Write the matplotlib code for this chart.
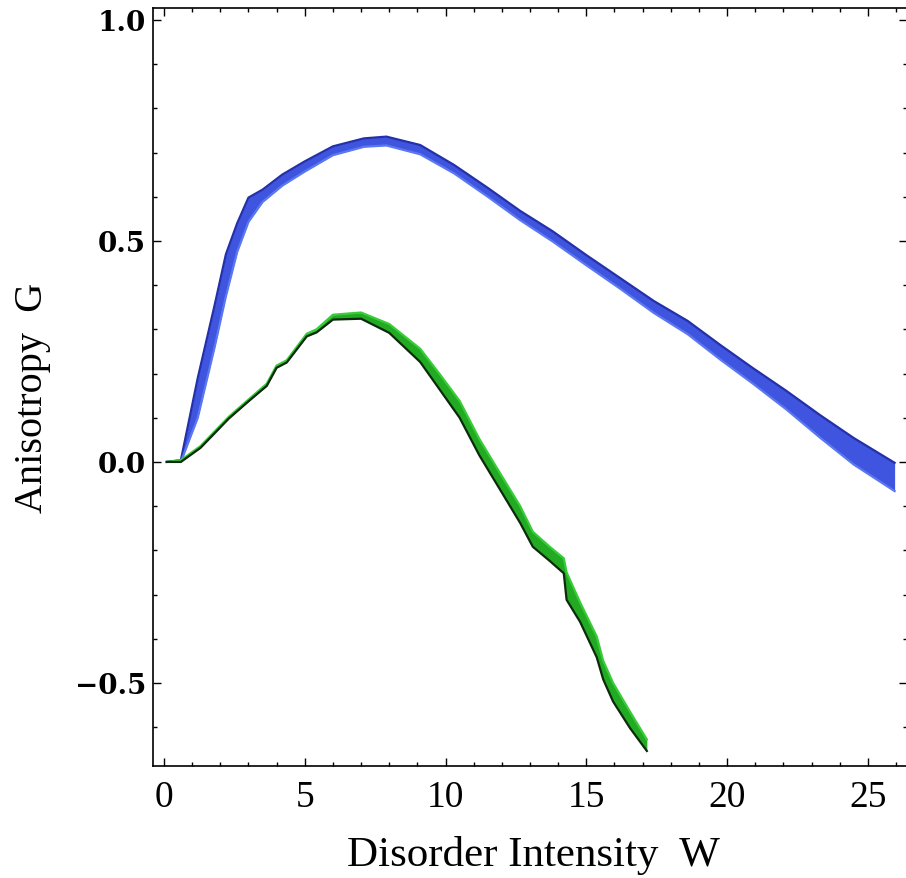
import matplotlib
matplotlib.use("Agg")
import matplotlib.pyplot as plt
import numpy as np

# blue family: x grid with upper / lower edge of the band of curves
blue_x = [0.1, 0.6, 1.2, 1.8, 2.2, 2.6, 3.0, 3.5, 4.2, 5.0, 6.0, 7.1, 7.9, 9.1,
          10.3, 11.5, 12.65, 13.8, 15.0, 16.2, 17.4, 18.6, 19.75, 20.9, 22.1,
          23.3, 24.5, 25.95]
blue_upper = [0.0, 0.004, 0.19, 0.355, 0.47, 0.54, 0.598, 0.616, 0.65, 0.68,
              0.714, 0.732, 0.736, 0.717, 0.672, 0.62, 0.568, 0.522, 0.468,
              0.416, 0.364, 0.319, 0.265, 0.213, 0.161, 0.106, 0.054, -0.002]
blue_lower = [0.0, 0.0, 0.10, 0.26, 0.375, 0.475, 0.543, 0.588, 0.625, 0.657,
              0.694, 0.713, 0.716, 0.696, 0.653, 0.600, 0.547, 0.499, 0.445,
              0.392, 0.337, 0.289, 0.232, 0.178, 0.119, 0.055, -0.006, -0.066]

# green family
green_x = [0.1, 0.6, 1.3, 2.3, 3.0, 3.65, 4.0, 4.36, 5.07, 5.42, 6.0, 7.0, 8.0,
           9.1, 9.8, 10.5, 11.2, 11.94, 12.65, 13.1, 13.7, 14.2, 14.3, 14.78,
           15.37, 15.6, 15.95, 16.55, 17.15]
green_lower = [0.0, 0.0, 0.032, 0.098, 0.137, 0.172, 0.213, 0.225, 0.284,
               0.293, 0.322, 0.324, 0.292, 0.226, 0.163, 0.1, 0.015, -0.063,
               -0.138, -0.192, -0.224, -0.252, -0.312, -0.362, -0.442, -0.492,
               -0.542, -0.602, -0.654]
green_upper = [0.0, 0.004, 0.036, 0.102, 0.141, 0.177, 0.218, 0.23, 0.29, 0.3,
               0.333, 0.338, 0.312, 0.256, 0.198, 0.138, 0.052, -0.026, -0.1,
               -0.158, -0.192, -0.218, -0.25, -0.318, -0.395, -0.45, -0.5,
               -0.565, -0.628]

x_ticks = [0, 5, 10, 15, 20, 25]
y_ticks = [-0.5, 0.0, 0.5, 1.0]

fig = plt.figure(figsize=(9.06, 8.79), dpi=100)
ax = fig.add_axes([153 / 906, 112 / 879, 754 / 906, 758 / 879])

# blue band
ax.fill_between(blue_x, blue_lower, blue_upper, color="#3f55e0", lw=0)
ax.plot(blue_x, blue_upper, color="#2430a8", lw=1.6)
ax.plot(blue_x, blue_lower, color="#5a78f2", lw=1.6)

# green band
ax.fill_between(green_x, green_lower, green_upper, color="#22aa22", lw=0)
ax.plot(green_x, green_upper, color="#38cc38", lw=1.6)
ax.plot(green_x, green_lower, color="#0c2a0c", lw=1.6)

ax.set_xlim(-0.39, 26.39)
ax.set_ylim(-0.688, 1.027)

ax.set_xticks(x_ticks)
ax.set_xticks(np.arange(0, 27, 1), minor=True)
ax.set_yticks(y_ticks)
ax.set_yticks(np.arange(-0.6, 1.05, 0.1), minor=True)
ax.set_yticklabels(["\u22120.5", "0.0", "0.5", "1.0"])

ax.tick_params(which="both", direction="in", top=True, right=True,
               width=1.0, color="black")
ax.tick_params(which="major", length=6)
ax.tick_params(which="minor", length=3)
ax.tick_params(axis="x", which="major", pad=10)
ax.tick_params(axis="y", which="major", pad=5)

for lab in ax.get_xticklabels():
    lab.set_fontfamily("Liberation Serif")
    lab.set_fontsize(27)
for lab in ax.get_yticklabels():
    lab.set_fontfamily("DejaVu Serif")
    lab.set_fontweight("bold")
    lab.set_fontsize(20)

for side in ax.spines.values():
    side.set_linewidth(1.2)

fig.text(533 / 906, 1 - 856 / 879, "Disorder Intensity  W",
         family="Liberation Serif", fontsize=31, ha="center", va="center")
fig.text(33 / 906, 1 - 398 / 879, "Anisotropy  G", family="Liberation Serif",
         fontsize=29, ha="center", va="center", rotation=90)

fig.savefig("out.png", dpi=100)
